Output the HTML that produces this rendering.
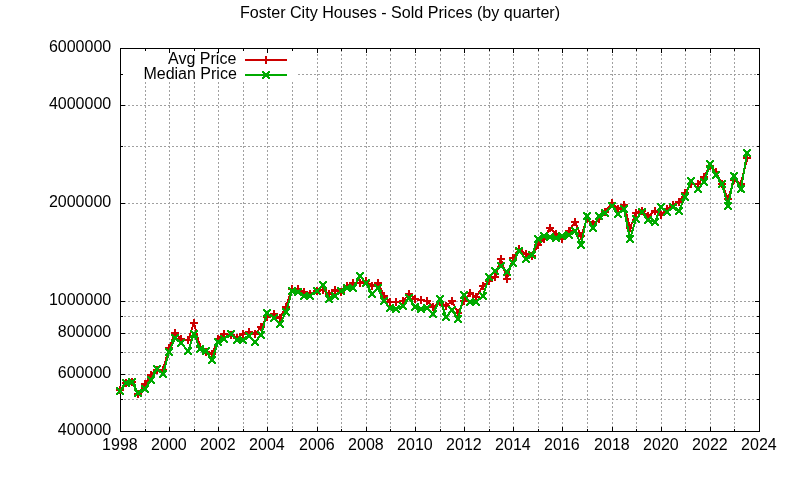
<!DOCTYPE html><html><head><meta charset="utf-8"><style>html,body{margin:0;padding:0;background:#fff;overflow:hidden}svg{display:block;will-change:transform}text{font-family:"Liberation Sans",sans-serif;font-size:16px;fill:#000}</style></head><body>
<svg width="800" height="480" viewBox="0 0 800 480">
<rect width="800" height="480" fill="#fff"/>
<path d="M145.5 432V81.5M169.5 432V81.5M194.5 432V81.5M218.5 432V81.5M243.5 432V81.5M267.5 432V81.5M292.5 432V81.5M317.5 432V48M341.5 432V48M366.5 432V48M390.5 432V48M415.5 432V48M440.5 432V48M464.5 432V48M489.5 432V48M513.5 432V48M538.5 432V48M562.5 432V48M587.5 432V48M612.5 432V48M636.5 432V48M661.5 432V48M685.5 432V48M710.5 432V48M734.5 432V48M120 399.5H759.5M120 374.5H759.5M120 352.5H759.5M120 333.5H759.5M120 316.5H759.5M120 301.5H759.5M120 203.5H759.5M120 146.5H759.5M120 105.5H759.5M298 74.5H759.5" stroke="#a0a0a0" stroke-width="1" stroke-dasharray="2 2" fill="none"/>
<path d="M145.5 431.5v-2.5M145.5 48.5v2.5M169.5 431.5v-4.5M169.5 48.5v4.5M194.5 431.5v-2.5M194.5 48.5v2.5M218.5 431.5v-4.5M218.5 48.5v4.5M243.5 431.5v-2.5M243.5 48.5v2.5M267.5 431.5v-4.5M267.5 48.5v4.5M292.5 431.5v-2.5M292.5 48.5v2.5M317.5 431.5v-4.5M317.5 48.5v4.5M341.5 431.5v-2.5M341.5 48.5v2.5M366.5 431.5v-4.5M366.5 48.5v4.5M390.5 431.5v-2.5M390.5 48.5v2.5M415.5 431.5v-4.5M415.5 48.5v4.5M440.5 431.5v-2.5M440.5 48.5v2.5M464.5 431.5v-4.5M464.5 48.5v4.5M489.5 431.5v-2.5M489.5 48.5v2.5M513.5 431.5v-4.5M513.5 48.5v4.5M538.5 431.5v-2.5M538.5 48.5v2.5M562.5 431.5v-4.5M562.5 48.5v4.5M587.5 431.5v-2.5M587.5 48.5v2.5M612.5 431.5v-4.5M612.5 48.5v4.5M636.5 431.5v-2.5M636.5 48.5v2.5M661.5 431.5v-4.5M661.5 48.5v4.5M685.5 431.5v-2.5M685.5 48.5v2.5M710.5 431.5v-4.5M710.5 48.5v4.5M734.5 431.5v-2.5M734.5 48.5v2.5M120.5 399.5h2.5M759.5 399.5h-2.5M120.5 374.5h4.5M759.5 374.5h-4.5M120.5 352.5h2.5M759.5 352.5h-2.5M120.5 333.5h4.5M759.5 333.5h-4.5M120.5 316.5h2.5M759.5 316.5h-2.5M120.5 301.5h4.5M759.5 301.5h-4.5M120.5 203.5h4.5M759.5 203.5h-4.5M120.5 146.5h2.5M759.5 146.5h-2.5M120.5 105.5h4.5M759.5 105.5h-4.5M120.5 74.5h2.5M759.5 74.5h-2.5" stroke="#000" stroke-width="1" fill="none"/>
<rect x="120.5" y="48.5" width="639.0" height="383.0" fill="none" stroke="#000" stroke-width="1"/>
<text x="111.2" y="434.7" text-anchor="end">400000</text>
<text x="111.2" y="377.7" text-anchor="end">600000</text>
<text x="111.2" y="336.7" text-anchor="end">800000</text>
<text x="111.2" y="304.7" text-anchor="end">1000000</text>
<text x="111.2" y="206.7" text-anchor="end">2000000</text>
<text x="111.2" y="108.7" text-anchor="end">4000000</text>
<text x="111.2" y="51.7" text-anchor="end">6000000</text>
<text x="119.9" y="450" text-anchor="middle">1998</text>
<text x="168.9" y="450" text-anchor="middle">2000</text>
<text x="217.9" y="450" text-anchor="middle">2002</text>
<text x="266.9" y="450" text-anchor="middle">2004</text>
<text x="316.9" y="450" text-anchor="middle">2006</text>
<text x="365.9" y="450" text-anchor="middle">2008</text>
<text x="414.9" y="450" text-anchor="middle">2010</text>
<text x="463.9" y="450" text-anchor="middle">2012</text>
<text x="512.9" y="450" text-anchor="middle">2014</text>
<text x="561.9" y="450" text-anchor="middle">2016</text>
<text x="611.9" y="450" text-anchor="middle">2018</text>
<text x="660.9" y="450" text-anchor="middle">2020</text>
<text x="709.9" y="450" text-anchor="middle">2022</text>
<text x="758.9" y="450" text-anchor="middle">2024</text>
<text x="400" y="18" text-anchor="middle" style="font-size:16.1px">Foster City Houses - Sold Prices (by quarter)</text>
<text x="236.3" y="64" text-anchor="end">Avg Price</text>
<text x="236.8" y="79" text-anchor="end">Median Price</text>
<path d="M245 60H287" stroke="#cc0000" stroke-width="2"/>
<path d="M245 75H287" stroke="#00aa00" stroke-width="2"/>
<polyline points="120.00,390.00 126.00,383.00 132.00,382.00 138.00,394.00 145.00,384.00 151.00,375.00 157.00,370.00 163.00,370.00 169.00,348.00 175.00,333.00 181.00,339.00 188.00,340.00 194.00,323.00 200.00,347.00 206.00,352.00 212.00,354.00 218.00,339.00 224.00,334.00 231.00,335.00 237.00,338.00 243.00,334.00 249.00,332.00 255.00,334.00 261.00,327.00 267.00,317.00 274.00,314.00 280.00,318.00 286.00,307.00 292.00,289.00 298.00,289.00 304.00,292.00 310.00,294.00 317.00,291.00 323.00,290.00 329.00,294.00 335.00,290.00 341.00,292.00 347.00,286.00 353.00,283.00 360.00,283.00 366.00,281.00 372.00,286.00 378.00,283.00 384.00,296.00 390.00,302.00 396.00,302.00 403.00,301.00 409.00,294.00 415.00,299.00 421.00,300.00 427.00,301.00 433.00,307.00 440.00,302.00 446.00,306.00 452.00,301.00 458.00,313.00 464.00,301.00 470.00,293.00 476.00,297.00 483.00,286.00 489.00,281.00 495.00,277.00 501.00,259.00 507.00,279.00 513.00,258.00 519.00,249.00 526.00,254.00 532.00,256.00 538.00,245.00 544.00,239.00 550.00,228.00 556.00,234.00 562.00,239.00 569.00,231.00 575.00,222.00 581.00,236.00 587.00,219.00 593.00,224.00 599.00,219.00 605.00,212.00 612.00,203.00 618.00,209.00 624.00,205.00 630.00,228.00 636.00,213.00 642.00,211.00 648.00,216.00 655.00,211.00 661.00,215.00 667.00,209.00 673.00,205.00 679.00,202.00 685.00,193.00 691.00,184.00 698.00,184.00 704.00,177.00 710.00,166.00 716.00,172.00 722.00,184.00 728.00,199.00 734.00,180.00 741.00,184.00 747.00,158.00" fill="none" stroke="#cc0000" stroke-width="2" stroke-linejoin="miter" shape-rendering="crispEdges"/>
<path d="M116.00 390.00h8M120.00 386.00v8M122.00 383.00h8M126.00 379.00v8M128.00 382.00h8M132.00 378.00v8M134.00 394.00h8M138.00 390.00v8M141.00 384.00h8M145.00 380.00v8M147.00 375.00h8M151.00 371.00v8M153.00 370.00h8M157.00 366.00v8M159.00 370.00h8M163.00 366.00v8M165.00 348.00h8M169.00 344.00v8M171.00 333.00h8M175.00 329.00v8M177.00 339.00h8M181.00 335.00v8M184.00 340.00h8M188.00 336.00v8M190.00 323.00h8M194.00 319.00v8M196.00 347.00h8M200.00 343.00v8M202.00 352.00h8M206.00 348.00v8M208.00 354.00h8M212.00 350.00v8M214.00 339.00h8M218.00 335.00v8M220.00 334.00h8M224.00 330.00v8M227.00 335.00h8M231.00 331.00v8M233.00 338.00h8M237.00 334.00v8M239.00 334.00h8M243.00 330.00v8M245.00 332.00h8M249.00 328.00v8M251.00 334.00h8M255.00 330.00v8M257.00 327.00h8M261.00 323.00v8M263.00 317.00h8M267.00 313.00v8M270.00 314.00h8M274.00 310.00v8M276.00 318.00h8M280.00 314.00v8M282.00 307.00h8M286.00 303.00v8M288.00 289.00h8M292.00 285.00v8M294.00 289.00h8M298.00 285.00v8M300.00 292.00h8M304.00 288.00v8M306.00 294.00h8M310.00 290.00v8M313.00 291.00h8M317.00 287.00v8M319.00 290.00h8M323.00 286.00v8M325.00 294.00h8M329.00 290.00v8M331.00 290.00h8M335.00 286.00v8M337.00 292.00h8M341.00 288.00v8M343.00 286.00h8M347.00 282.00v8M349.00 283.00h8M353.00 279.00v8M356.00 283.00h8M360.00 279.00v8M362.00 281.00h8M366.00 277.00v8M368.00 286.00h8M372.00 282.00v8M374.00 283.00h8M378.00 279.00v8M380.00 296.00h8M384.00 292.00v8M386.00 302.00h8M390.00 298.00v8M392.00 302.00h8M396.00 298.00v8M399.00 301.00h8M403.00 297.00v8M405.00 294.00h8M409.00 290.00v8M411.00 299.00h8M415.00 295.00v8M417.00 300.00h8M421.00 296.00v8M423.00 301.00h8M427.00 297.00v8M429.00 307.00h8M433.00 303.00v8M436.00 302.00h8M440.00 298.00v8M442.00 306.00h8M446.00 302.00v8M448.00 301.00h8M452.00 297.00v8M454.00 313.00h8M458.00 309.00v8M460.00 301.00h8M464.00 297.00v8M466.00 293.00h8M470.00 289.00v8M472.00 297.00h8M476.00 293.00v8M479.00 286.00h8M483.00 282.00v8M485.00 281.00h8M489.00 277.00v8M491.00 277.00h8M495.00 273.00v8M497.00 259.00h8M501.00 255.00v8M503.00 279.00h8M507.00 275.00v8M509.00 258.00h8M513.00 254.00v8M515.00 249.00h8M519.00 245.00v8M522.00 254.00h8M526.00 250.00v8M528.00 256.00h8M532.00 252.00v8M534.00 245.00h8M538.00 241.00v8M540.00 239.00h8M544.00 235.00v8M546.00 228.00h8M550.00 224.00v8M552.00 234.00h8M556.00 230.00v8M558.00 239.00h8M562.00 235.00v8M565.00 231.00h8M569.00 227.00v8M571.00 222.00h8M575.00 218.00v8M577.00 236.00h8M581.00 232.00v8M583.00 219.00h8M587.00 215.00v8M589.00 224.00h8M593.00 220.00v8M595.00 219.00h8M599.00 215.00v8M601.00 212.00h8M605.00 208.00v8M608.00 203.00h8M612.00 199.00v8M614.00 209.00h8M618.00 205.00v8M620.00 205.00h8M624.00 201.00v8M626.00 228.00h8M630.00 224.00v8M632.00 213.00h8M636.00 209.00v8M638.00 211.00h8M642.00 207.00v8M644.00 216.00h8M648.00 212.00v8M651.00 211.00h8M655.00 207.00v8M657.00 215.00h8M661.00 211.00v8M663.00 209.00h8M667.00 205.00v8M669.00 205.00h8M673.00 201.00v8M675.00 202.00h8M679.00 198.00v8M681.00 193.00h8M685.00 189.00v8M687.00 184.00h8M691.00 180.00v8M694.00 184.00h8M698.00 180.00v8M700.00 177.00h8M704.00 173.00v8M706.00 166.00h8M710.00 162.00v8M712.00 172.00h8M716.00 168.00v8M718.00 184.00h8M722.00 180.00v8M724.00 199.00h8M728.00 195.00v8M730.00 180.00h8M734.00 176.00v8M737.00 184.00h8M741.00 180.00v8M743.00 158.00h8M747.00 154.00v8M262.00 60.00h8M266.00 56.00v8" stroke="#cc0000" stroke-width="2" fill="none" shape-rendering="crispEdges"/>
<polyline points="120.00,391.00 126.00,383.00 132.00,382.00 138.00,393.00 145.00,389.00 151.00,380.00 157.00,369.00 163.00,374.00 169.00,352.00 175.00,338.00 181.00,343.00 188.00,351.00 194.00,334.00 200.00,349.00 206.00,351.00 212.00,360.00 218.00,342.00 224.00,339.00 231.00,334.00 237.00,340.00 243.00,340.00 249.00,336.00 255.00,342.00 261.00,335.00 267.00,313.00 274.00,318.00 280.00,324.00 286.00,312.00 292.00,291.00 298.00,292.00 304.00,296.00 310.00,296.00 317.00,291.00 323.00,285.00 329.00,299.00 335.00,296.00 341.00,291.00 347.00,288.00 353.00,288.00 360.00,276.00 366.00,283.00 372.00,294.00 378.00,288.00 384.00,301.00 390.00,308.00 396.00,309.00 403.00,306.00 409.00,298.00 415.00,307.00 421.00,309.00 427.00,308.00 433.00,314.00 440.00,299.00 446.00,317.00 452.00,310.00 458.00,319.00 464.00,295.00 470.00,302.00 476.00,302.00 483.00,296.00 489.00,277.00 495.00,271.00 501.00,266.00 507.00,272.00 513.00,263.00 519.00,251.00 526.00,259.00 532.00,255.00 538.00,239.00 544.00,236.00 550.00,237.00 556.00,238.00 562.00,236.00 569.00,235.00 575.00,231.00 581.00,245.00 587.00,216.00 593.00,228.00 599.00,216.00 605.00,213.00 612.00,206.00 618.00,214.00 624.00,209.00 630.00,239.00 636.00,219.00 642.00,212.00 648.00,220.00 655.00,222.00 661.00,207.00 667.00,212.00 673.00,207.00 679.00,211.00 685.00,197.00 691.00,181.00 698.00,189.00 704.00,182.00 710.00,164.00 716.00,175.00 722.00,184.00 728.00,206.00 734.00,176.00 741.00,189.00 747.00,153.00" fill="none" stroke="#00aa00" stroke-width="2" stroke-linejoin="miter" shape-rendering="crispEdges"/>
<path d="M116 387h2v2h-2zM122 387h2v2h-2zM117 388h2v2h-2zM121 388h2v2h-2zM118 389h2v2h-2zM120 389h2v2h-2zM119 390h2v2h-2zM119 390h2v2h-2zM120 391h2v2h-2zM118 391h2v2h-2zM121 392h2v2h-2zM117 392h2v2h-2zM122 393h2v2h-2zM116 393h2v2h-2zM122 379h2v2h-2zM128 379h2v2h-2zM123 380h2v2h-2zM127 380h2v2h-2zM124 381h2v2h-2zM126 381h2v2h-2zM125 382h2v2h-2zM125 382h2v2h-2zM126 383h2v2h-2zM124 383h2v2h-2zM127 384h2v2h-2zM123 384h2v2h-2zM128 385h2v2h-2zM122 385h2v2h-2zM128 378h2v2h-2zM134 378h2v2h-2zM129 379h2v2h-2zM133 379h2v2h-2zM130 380h2v2h-2zM132 380h2v2h-2zM131 381h2v2h-2zM131 381h2v2h-2zM132 382h2v2h-2zM130 382h2v2h-2zM133 383h2v2h-2zM129 383h2v2h-2zM134 384h2v2h-2zM128 384h2v2h-2zM134 389h2v2h-2zM140 389h2v2h-2zM135 390h2v2h-2zM139 390h2v2h-2zM136 391h2v2h-2zM138 391h2v2h-2zM137 392h2v2h-2zM137 392h2v2h-2zM138 393h2v2h-2zM136 393h2v2h-2zM139 394h2v2h-2zM135 394h2v2h-2zM140 395h2v2h-2zM134 395h2v2h-2zM141 385h2v2h-2zM147 385h2v2h-2zM142 386h2v2h-2zM146 386h2v2h-2zM143 387h2v2h-2zM145 387h2v2h-2zM144 388h2v2h-2zM144 388h2v2h-2zM145 389h2v2h-2zM143 389h2v2h-2zM146 390h2v2h-2zM142 390h2v2h-2zM147 391h2v2h-2zM141 391h2v2h-2zM147 376h2v2h-2zM153 376h2v2h-2zM148 377h2v2h-2zM152 377h2v2h-2zM149 378h2v2h-2zM151 378h2v2h-2zM150 379h2v2h-2zM150 379h2v2h-2zM151 380h2v2h-2zM149 380h2v2h-2zM152 381h2v2h-2zM148 381h2v2h-2zM153 382h2v2h-2zM147 382h2v2h-2zM153 365h2v2h-2zM159 365h2v2h-2zM154 366h2v2h-2zM158 366h2v2h-2zM155 367h2v2h-2zM157 367h2v2h-2zM156 368h2v2h-2zM156 368h2v2h-2zM157 369h2v2h-2zM155 369h2v2h-2zM158 370h2v2h-2zM154 370h2v2h-2zM159 371h2v2h-2zM153 371h2v2h-2zM159 370h2v2h-2zM165 370h2v2h-2zM160 371h2v2h-2zM164 371h2v2h-2zM161 372h2v2h-2zM163 372h2v2h-2zM162 373h2v2h-2zM162 373h2v2h-2zM163 374h2v2h-2zM161 374h2v2h-2zM164 375h2v2h-2zM160 375h2v2h-2zM165 376h2v2h-2zM159 376h2v2h-2zM165 348h2v2h-2zM171 348h2v2h-2zM166 349h2v2h-2zM170 349h2v2h-2zM167 350h2v2h-2zM169 350h2v2h-2zM168 351h2v2h-2zM168 351h2v2h-2zM169 352h2v2h-2zM167 352h2v2h-2zM170 353h2v2h-2zM166 353h2v2h-2zM171 354h2v2h-2zM165 354h2v2h-2zM171 334h2v2h-2zM177 334h2v2h-2zM172 335h2v2h-2zM176 335h2v2h-2zM173 336h2v2h-2zM175 336h2v2h-2zM174 337h2v2h-2zM174 337h2v2h-2zM175 338h2v2h-2zM173 338h2v2h-2zM176 339h2v2h-2zM172 339h2v2h-2zM177 340h2v2h-2zM171 340h2v2h-2zM177 339h2v2h-2zM183 339h2v2h-2zM178 340h2v2h-2zM182 340h2v2h-2zM179 341h2v2h-2zM181 341h2v2h-2zM180 342h2v2h-2zM180 342h2v2h-2zM181 343h2v2h-2zM179 343h2v2h-2zM182 344h2v2h-2zM178 344h2v2h-2zM183 345h2v2h-2zM177 345h2v2h-2zM184 347h2v2h-2zM190 347h2v2h-2zM185 348h2v2h-2zM189 348h2v2h-2zM186 349h2v2h-2zM188 349h2v2h-2zM187 350h2v2h-2zM187 350h2v2h-2zM188 351h2v2h-2zM186 351h2v2h-2zM189 352h2v2h-2zM185 352h2v2h-2zM190 353h2v2h-2zM184 353h2v2h-2zM190 330h2v2h-2zM196 330h2v2h-2zM191 331h2v2h-2zM195 331h2v2h-2zM192 332h2v2h-2zM194 332h2v2h-2zM193 333h2v2h-2zM193 333h2v2h-2zM194 334h2v2h-2zM192 334h2v2h-2zM195 335h2v2h-2zM191 335h2v2h-2zM196 336h2v2h-2zM190 336h2v2h-2zM196 345h2v2h-2zM202 345h2v2h-2zM197 346h2v2h-2zM201 346h2v2h-2zM198 347h2v2h-2zM200 347h2v2h-2zM199 348h2v2h-2zM199 348h2v2h-2zM200 349h2v2h-2zM198 349h2v2h-2zM201 350h2v2h-2zM197 350h2v2h-2zM202 351h2v2h-2zM196 351h2v2h-2zM202 347h2v2h-2zM208 347h2v2h-2zM203 348h2v2h-2zM207 348h2v2h-2zM204 349h2v2h-2zM206 349h2v2h-2zM205 350h2v2h-2zM205 350h2v2h-2zM206 351h2v2h-2zM204 351h2v2h-2zM207 352h2v2h-2zM203 352h2v2h-2zM208 353h2v2h-2zM202 353h2v2h-2zM208 356h2v2h-2zM214 356h2v2h-2zM209 357h2v2h-2zM213 357h2v2h-2zM210 358h2v2h-2zM212 358h2v2h-2zM211 359h2v2h-2zM211 359h2v2h-2zM212 360h2v2h-2zM210 360h2v2h-2zM213 361h2v2h-2zM209 361h2v2h-2zM214 362h2v2h-2zM208 362h2v2h-2zM214 338h2v2h-2zM220 338h2v2h-2zM215 339h2v2h-2zM219 339h2v2h-2zM216 340h2v2h-2zM218 340h2v2h-2zM217 341h2v2h-2zM217 341h2v2h-2zM218 342h2v2h-2zM216 342h2v2h-2zM219 343h2v2h-2zM215 343h2v2h-2zM220 344h2v2h-2zM214 344h2v2h-2zM220 335h2v2h-2zM226 335h2v2h-2zM221 336h2v2h-2zM225 336h2v2h-2zM222 337h2v2h-2zM224 337h2v2h-2zM223 338h2v2h-2zM223 338h2v2h-2zM224 339h2v2h-2zM222 339h2v2h-2zM225 340h2v2h-2zM221 340h2v2h-2zM226 341h2v2h-2zM220 341h2v2h-2zM227 330h2v2h-2zM233 330h2v2h-2zM228 331h2v2h-2zM232 331h2v2h-2zM229 332h2v2h-2zM231 332h2v2h-2zM230 333h2v2h-2zM230 333h2v2h-2zM231 334h2v2h-2zM229 334h2v2h-2zM232 335h2v2h-2zM228 335h2v2h-2zM233 336h2v2h-2zM227 336h2v2h-2zM233 336h2v2h-2zM239 336h2v2h-2zM234 337h2v2h-2zM238 337h2v2h-2zM235 338h2v2h-2zM237 338h2v2h-2zM236 339h2v2h-2zM236 339h2v2h-2zM237 340h2v2h-2zM235 340h2v2h-2zM238 341h2v2h-2zM234 341h2v2h-2zM239 342h2v2h-2zM233 342h2v2h-2zM239 336h2v2h-2zM245 336h2v2h-2zM240 337h2v2h-2zM244 337h2v2h-2zM241 338h2v2h-2zM243 338h2v2h-2zM242 339h2v2h-2zM242 339h2v2h-2zM243 340h2v2h-2zM241 340h2v2h-2zM244 341h2v2h-2zM240 341h2v2h-2zM245 342h2v2h-2zM239 342h2v2h-2zM245 332h2v2h-2zM251 332h2v2h-2zM246 333h2v2h-2zM250 333h2v2h-2zM247 334h2v2h-2zM249 334h2v2h-2zM248 335h2v2h-2zM248 335h2v2h-2zM249 336h2v2h-2zM247 336h2v2h-2zM250 337h2v2h-2zM246 337h2v2h-2zM251 338h2v2h-2zM245 338h2v2h-2zM251 338h2v2h-2zM257 338h2v2h-2zM252 339h2v2h-2zM256 339h2v2h-2zM253 340h2v2h-2zM255 340h2v2h-2zM254 341h2v2h-2zM254 341h2v2h-2zM255 342h2v2h-2zM253 342h2v2h-2zM256 343h2v2h-2zM252 343h2v2h-2zM257 344h2v2h-2zM251 344h2v2h-2zM257 331h2v2h-2zM263 331h2v2h-2zM258 332h2v2h-2zM262 332h2v2h-2zM259 333h2v2h-2zM261 333h2v2h-2zM260 334h2v2h-2zM260 334h2v2h-2zM261 335h2v2h-2zM259 335h2v2h-2zM262 336h2v2h-2zM258 336h2v2h-2zM263 337h2v2h-2zM257 337h2v2h-2zM263 309h2v2h-2zM269 309h2v2h-2zM264 310h2v2h-2zM268 310h2v2h-2zM265 311h2v2h-2zM267 311h2v2h-2zM266 312h2v2h-2zM266 312h2v2h-2zM267 313h2v2h-2zM265 313h2v2h-2zM268 314h2v2h-2zM264 314h2v2h-2zM269 315h2v2h-2zM263 315h2v2h-2zM270 314h2v2h-2zM276 314h2v2h-2zM271 315h2v2h-2zM275 315h2v2h-2zM272 316h2v2h-2zM274 316h2v2h-2zM273 317h2v2h-2zM273 317h2v2h-2zM274 318h2v2h-2zM272 318h2v2h-2zM275 319h2v2h-2zM271 319h2v2h-2zM276 320h2v2h-2zM270 320h2v2h-2zM276 320h2v2h-2zM282 320h2v2h-2zM277 321h2v2h-2zM281 321h2v2h-2zM278 322h2v2h-2zM280 322h2v2h-2zM279 323h2v2h-2zM279 323h2v2h-2zM280 324h2v2h-2zM278 324h2v2h-2zM281 325h2v2h-2zM277 325h2v2h-2zM282 326h2v2h-2zM276 326h2v2h-2zM282 308h2v2h-2zM288 308h2v2h-2zM283 309h2v2h-2zM287 309h2v2h-2zM284 310h2v2h-2zM286 310h2v2h-2zM285 311h2v2h-2zM285 311h2v2h-2zM286 312h2v2h-2zM284 312h2v2h-2zM287 313h2v2h-2zM283 313h2v2h-2zM288 314h2v2h-2zM282 314h2v2h-2zM288 287h2v2h-2zM294 287h2v2h-2zM289 288h2v2h-2zM293 288h2v2h-2zM290 289h2v2h-2zM292 289h2v2h-2zM291 290h2v2h-2zM291 290h2v2h-2zM292 291h2v2h-2zM290 291h2v2h-2zM293 292h2v2h-2zM289 292h2v2h-2zM294 293h2v2h-2zM288 293h2v2h-2zM294 288h2v2h-2zM300 288h2v2h-2zM295 289h2v2h-2zM299 289h2v2h-2zM296 290h2v2h-2zM298 290h2v2h-2zM297 291h2v2h-2zM297 291h2v2h-2zM298 292h2v2h-2zM296 292h2v2h-2zM299 293h2v2h-2zM295 293h2v2h-2zM300 294h2v2h-2zM294 294h2v2h-2zM300 292h2v2h-2zM306 292h2v2h-2zM301 293h2v2h-2zM305 293h2v2h-2zM302 294h2v2h-2zM304 294h2v2h-2zM303 295h2v2h-2zM303 295h2v2h-2zM304 296h2v2h-2zM302 296h2v2h-2zM305 297h2v2h-2zM301 297h2v2h-2zM306 298h2v2h-2zM300 298h2v2h-2zM306 292h2v2h-2zM312 292h2v2h-2zM307 293h2v2h-2zM311 293h2v2h-2zM308 294h2v2h-2zM310 294h2v2h-2zM309 295h2v2h-2zM309 295h2v2h-2zM310 296h2v2h-2zM308 296h2v2h-2zM311 297h2v2h-2zM307 297h2v2h-2zM312 298h2v2h-2zM306 298h2v2h-2zM313 287h2v2h-2zM319 287h2v2h-2zM314 288h2v2h-2zM318 288h2v2h-2zM315 289h2v2h-2zM317 289h2v2h-2zM316 290h2v2h-2zM316 290h2v2h-2zM317 291h2v2h-2zM315 291h2v2h-2zM318 292h2v2h-2zM314 292h2v2h-2zM319 293h2v2h-2zM313 293h2v2h-2zM319 281h2v2h-2zM325 281h2v2h-2zM320 282h2v2h-2zM324 282h2v2h-2zM321 283h2v2h-2zM323 283h2v2h-2zM322 284h2v2h-2zM322 284h2v2h-2zM323 285h2v2h-2zM321 285h2v2h-2zM324 286h2v2h-2zM320 286h2v2h-2zM325 287h2v2h-2zM319 287h2v2h-2zM325 295h2v2h-2zM331 295h2v2h-2zM326 296h2v2h-2zM330 296h2v2h-2zM327 297h2v2h-2zM329 297h2v2h-2zM328 298h2v2h-2zM328 298h2v2h-2zM329 299h2v2h-2zM327 299h2v2h-2zM330 300h2v2h-2zM326 300h2v2h-2zM331 301h2v2h-2zM325 301h2v2h-2zM331 292h2v2h-2zM337 292h2v2h-2zM332 293h2v2h-2zM336 293h2v2h-2zM333 294h2v2h-2zM335 294h2v2h-2zM334 295h2v2h-2zM334 295h2v2h-2zM335 296h2v2h-2zM333 296h2v2h-2zM336 297h2v2h-2zM332 297h2v2h-2zM337 298h2v2h-2zM331 298h2v2h-2zM337 287h2v2h-2zM343 287h2v2h-2zM338 288h2v2h-2zM342 288h2v2h-2zM339 289h2v2h-2zM341 289h2v2h-2zM340 290h2v2h-2zM340 290h2v2h-2zM341 291h2v2h-2zM339 291h2v2h-2zM342 292h2v2h-2zM338 292h2v2h-2zM343 293h2v2h-2zM337 293h2v2h-2zM343 284h2v2h-2zM349 284h2v2h-2zM344 285h2v2h-2zM348 285h2v2h-2zM345 286h2v2h-2zM347 286h2v2h-2zM346 287h2v2h-2zM346 287h2v2h-2zM347 288h2v2h-2zM345 288h2v2h-2zM348 289h2v2h-2zM344 289h2v2h-2zM349 290h2v2h-2zM343 290h2v2h-2zM349 284h2v2h-2zM355 284h2v2h-2zM350 285h2v2h-2zM354 285h2v2h-2zM351 286h2v2h-2zM353 286h2v2h-2zM352 287h2v2h-2zM352 287h2v2h-2zM353 288h2v2h-2zM351 288h2v2h-2zM354 289h2v2h-2zM350 289h2v2h-2zM355 290h2v2h-2zM349 290h2v2h-2zM356 272h2v2h-2zM362 272h2v2h-2zM357 273h2v2h-2zM361 273h2v2h-2zM358 274h2v2h-2zM360 274h2v2h-2zM359 275h2v2h-2zM359 275h2v2h-2zM360 276h2v2h-2zM358 276h2v2h-2zM361 277h2v2h-2zM357 277h2v2h-2zM362 278h2v2h-2zM356 278h2v2h-2zM362 279h2v2h-2zM368 279h2v2h-2zM363 280h2v2h-2zM367 280h2v2h-2zM364 281h2v2h-2zM366 281h2v2h-2zM365 282h2v2h-2zM365 282h2v2h-2zM366 283h2v2h-2zM364 283h2v2h-2zM367 284h2v2h-2zM363 284h2v2h-2zM368 285h2v2h-2zM362 285h2v2h-2zM368 290h2v2h-2zM374 290h2v2h-2zM369 291h2v2h-2zM373 291h2v2h-2zM370 292h2v2h-2zM372 292h2v2h-2zM371 293h2v2h-2zM371 293h2v2h-2zM372 294h2v2h-2zM370 294h2v2h-2zM373 295h2v2h-2zM369 295h2v2h-2zM374 296h2v2h-2zM368 296h2v2h-2zM374 284h2v2h-2zM380 284h2v2h-2zM375 285h2v2h-2zM379 285h2v2h-2zM376 286h2v2h-2zM378 286h2v2h-2zM377 287h2v2h-2zM377 287h2v2h-2zM378 288h2v2h-2zM376 288h2v2h-2zM379 289h2v2h-2zM375 289h2v2h-2zM380 290h2v2h-2zM374 290h2v2h-2zM380 297h2v2h-2zM386 297h2v2h-2zM381 298h2v2h-2zM385 298h2v2h-2zM382 299h2v2h-2zM384 299h2v2h-2zM383 300h2v2h-2zM383 300h2v2h-2zM384 301h2v2h-2zM382 301h2v2h-2zM385 302h2v2h-2zM381 302h2v2h-2zM386 303h2v2h-2zM380 303h2v2h-2zM386 304h2v2h-2zM392 304h2v2h-2zM387 305h2v2h-2zM391 305h2v2h-2zM388 306h2v2h-2zM390 306h2v2h-2zM389 307h2v2h-2zM389 307h2v2h-2zM390 308h2v2h-2zM388 308h2v2h-2zM391 309h2v2h-2zM387 309h2v2h-2zM392 310h2v2h-2zM386 310h2v2h-2zM392 305h2v2h-2zM398 305h2v2h-2zM393 306h2v2h-2zM397 306h2v2h-2zM394 307h2v2h-2zM396 307h2v2h-2zM395 308h2v2h-2zM395 308h2v2h-2zM396 309h2v2h-2zM394 309h2v2h-2zM397 310h2v2h-2zM393 310h2v2h-2zM398 311h2v2h-2zM392 311h2v2h-2zM399 302h2v2h-2zM405 302h2v2h-2zM400 303h2v2h-2zM404 303h2v2h-2zM401 304h2v2h-2zM403 304h2v2h-2zM402 305h2v2h-2zM402 305h2v2h-2zM403 306h2v2h-2zM401 306h2v2h-2zM404 307h2v2h-2zM400 307h2v2h-2zM405 308h2v2h-2zM399 308h2v2h-2zM405 294h2v2h-2zM411 294h2v2h-2zM406 295h2v2h-2zM410 295h2v2h-2zM407 296h2v2h-2zM409 296h2v2h-2zM408 297h2v2h-2zM408 297h2v2h-2zM409 298h2v2h-2zM407 298h2v2h-2zM410 299h2v2h-2zM406 299h2v2h-2zM411 300h2v2h-2zM405 300h2v2h-2zM411 303h2v2h-2zM417 303h2v2h-2zM412 304h2v2h-2zM416 304h2v2h-2zM413 305h2v2h-2zM415 305h2v2h-2zM414 306h2v2h-2zM414 306h2v2h-2zM415 307h2v2h-2zM413 307h2v2h-2zM416 308h2v2h-2zM412 308h2v2h-2zM417 309h2v2h-2zM411 309h2v2h-2zM417 305h2v2h-2zM423 305h2v2h-2zM418 306h2v2h-2zM422 306h2v2h-2zM419 307h2v2h-2zM421 307h2v2h-2zM420 308h2v2h-2zM420 308h2v2h-2zM421 309h2v2h-2zM419 309h2v2h-2zM422 310h2v2h-2zM418 310h2v2h-2zM423 311h2v2h-2zM417 311h2v2h-2zM423 304h2v2h-2zM429 304h2v2h-2zM424 305h2v2h-2zM428 305h2v2h-2zM425 306h2v2h-2zM427 306h2v2h-2zM426 307h2v2h-2zM426 307h2v2h-2zM427 308h2v2h-2zM425 308h2v2h-2zM428 309h2v2h-2zM424 309h2v2h-2zM429 310h2v2h-2zM423 310h2v2h-2zM429 310h2v2h-2zM435 310h2v2h-2zM430 311h2v2h-2zM434 311h2v2h-2zM431 312h2v2h-2zM433 312h2v2h-2zM432 313h2v2h-2zM432 313h2v2h-2zM433 314h2v2h-2zM431 314h2v2h-2zM434 315h2v2h-2zM430 315h2v2h-2zM435 316h2v2h-2zM429 316h2v2h-2zM436 295h2v2h-2zM442 295h2v2h-2zM437 296h2v2h-2zM441 296h2v2h-2zM438 297h2v2h-2zM440 297h2v2h-2zM439 298h2v2h-2zM439 298h2v2h-2zM440 299h2v2h-2zM438 299h2v2h-2zM441 300h2v2h-2zM437 300h2v2h-2zM442 301h2v2h-2zM436 301h2v2h-2zM442 313h2v2h-2zM448 313h2v2h-2zM443 314h2v2h-2zM447 314h2v2h-2zM444 315h2v2h-2zM446 315h2v2h-2zM445 316h2v2h-2zM445 316h2v2h-2zM446 317h2v2h-2zM444 317h2v2h-2zM447 318h2v2h-2zM443 318h2v2h-2zM448 319h2v2h-2zM442 319h2v2h-2zM448 306h2v2h-2zM454 306h2v2h-2zM449 307h2v2h-2zM453 307h2v2h-2zM450 308h2v2h-2zM452 308h2v2h-2zM451 309h2v2h-2zM451 309h2v2h-2zM452 310h2v2h-2zM450 310h2v2h-2zM453 311h2v2h-2zM449 311h2v2h-2zM454 312h2v2h-2zM448 312h2v2h-2zM454 315h2v2h-2zM460 315h2v2h-2zM455 316h2v2h-2zM459 316h2v2h-2zM456 317h2v2h-2zM458 317h2v2h-2zM457 318h2v2h-2zM457 318h2v2h-2zM458 319h2v2h-2zM456 319h2v2h-2zM459 320h2v2h-2zM455 320h2v2h-2zM460 321h2v2h-2zM454 321h2v2h-2zM460 291h2v2h-2zM466 291h2v2h-2zM461 292h2v2h-2zM465 292h2v2h-2zM462 293h2v2h-2zM464 293h2v2h-2zM463 294h2v2h-2zM463 294h2v2h-2zM464 295h2v2h-2zM462 295h2v2h-2zM465 296h2v2h-2zM461 296h2v2h-2zM466 297h2v2h-2zM460 297h2v2h-2zM466 298h2v2h-2zM472 298h2v2h-2zM467 299h2v2h-2zM471 299h2v2h-2zM468 300h2v2h-2zM470 300h2v2h-2zM469 301h2v2h-2zM469 301h2v2h-2zM470 302h2v2h-2zM468 302h2v2h-2zM471 303h2v2h-2zM467 303h2v2h-2zM472 304h2v2h-2zM466 304h2v2h-2zM472 298h2v2h-2zM478 298h2v2h-2zM473 299h2v2h-2zM477 299h2v2h-2zM474 300h2v2h-2zM476 300h2v2h-2zM475 301h2v2h-2zM475 301h2v2h-2zM476 302h2v2h-2zM474 302h2v2h-2zM477 303h2v2h-2zM473 303h2v2h-2zM478 304h2v2h-2zM472 304h2v2h-2zM479 292h2v2h-2zM485 292h2v2h-2zM480 293h2v2h-2zM484 293h2v2h-2zM481 294h2v2h-2zM483 294h2v2h-2zM482 295h2v2h-2zM482 295h2v2h-2zM483 296h2v2h-2zM481 296h2v2h-2zM484 297h2v2h-2zM480 297h2v2h-2zM485 298h2v2h-2zM479 298h2v2h-2zM485 273h2v2h-2zM491 273h2v2h-2zM486 274h2v2h-2zM490 274h2v2h-2zM487 275h2v2h-2zM489 275h2v2h-2zM488 276h2v2h-2zM488 276h2v2h-2zM489 277h2v2h-2zM487 277h2v2h-2zM490 278h2v2h-2zM486 278h2v2h-2zM491 279h2v2h-2zM485 279h2v2h-2zM491 267h2v2h-2zM497 267h2v2h-2zM492 268h2v2h-2zM496 268h2v2h-2zM493 269h2v2h-2zM495 269h2v2h-2zM494 270h2v2h-2zM494 270h2v2h-2zM495 271h2v2h-2zM493 271h2v2h-2zM496 272h2v2h-2zM492 272h2v2h-2zM497 273h2v2h-2zM491 273h2v2h-2zM497 262h2v2h-2zM503 262h2v2h-2zM498 263h2v2h-2zM502 263h2v2h-2zM499 264h2v2h-2zM501 264h2v2h-2zM500 265h2v2h-2zM500 265h2v2h-2zM501 266h2v2h-2zM499 266h2v2h-2zM502 267h2v2h-2zM498 267h2v2h-2zM503 268h2v2h-2zM497 268h2v2h-2zM503 268h2v2h-2zM509 268h2v2h-2zM504 269h2v2h-2zM508 269h2v2h-2zM505 270h2v2h-2zM507 270h2v2h-2zM506 271h2v2h-2zM506 271h2v2h-2zM507 272h2v2h-2zM505 272h2v2h-2zM508 273h2v2h-2zM504 273h2v2h-2zM509 274h2v2h-2zM503 274h2v2h-2zM509 259h2v2h-2zM515 259h2v2h-2zM510 260h2v2h-2zM514 260h2v2h-2zM511 261h2v2h-2zM513 261h2v2h-2zM512 262h2v2h-2zM512 262h2v2h-2zM513 263h2v2h-2zM511 263h2v2h-2zM514 264h2v2h-2zM510 264h2v2h-2zM515 265h2v2h-2zM509 265h2v2h-2zM515 247h2v2h-2zM521 247h2v2h-2zM516 248h2v2h-2zM520 248h2v2h-2zM517 249h2v2h-2zM519 249h2v2h-2zM518 250h2v2h-2zM518 250h2v2h-2zM519 251h2v2h-2zM517 251h2v2h-2zM520 252h2v2h-2zM516 252h2v2h-2zM521 253h2v2h-2zM515 253h2v2h-2zM522 255h2v2h-2zM528 255h2v2h-2zM523 256h2v2h-2zM527 256h2v2h-2zM524 257h2v2h-2zM526 257h2v2h-2zM525 258h2v2h-2zM525 258h2v2h-2zM526 259h2v2h-2zM524 259h2v2h-2zM527 260h2v2h-2zM523 260h2v2h-2zM528 261h2v2h-2zM522 261h2v2h-2zM528 251h2v2h-2zM534 251h2v2h-2zM529 252h2v2h-2zM533 252h2v2h-2zM530 253h2v2h-2zM532 253h2v2h-2zM531 254h2v2h-2zM531 254h2v2h-2zM532 255h2v2h-2zM530 255h2v2h-2zM533 256h2v2h-2zM529 256h2v2h-2zM534 257h2v2h-2zM528 257h2v2h-2zM534 235h2v2h-2zM540 235h2v2h-2zM535 236h2v2h-2zM539 236h2v2h-2zM536 237h2v2h-2zM538 237h2v2h-2zM537 238h2v2h-2zM537 238h2v2h-2zM538 239h2v2h-2zM536 239h2v2h-2zM539 240h2v2h-2zM535 240h2v2h-2zM540 241h2v2h-2zM534 241h2v2h-2zM540 232h2v2h-2zM546 232h2v2h-2zM541 233h2v2h-2zM545 233h2v2h-2zM542 234h2v2h-2zM544 234h2v2h-2zM543 235h2v2h-2zM543 235h2v2h-2zM544 236h2v2h-2zM542 236h2v2h-2zM545 237h2v2h-2zM541 237h2v2h-2zM546 238h2v2h-2zM540 238h2v2h-2zM546 233h2v2h-2zM552 233h2v2h-2zM547 234h2v2h-2zM551 234h2v2h-2zM548 235h2v2h-2zM550 235h2v2h-2zM549 236h2v2h-2zM549 236h2v2h-2zM550 237h2v2h-2zM548 237h2v2h-2zM551 238h2v2h-2zM547 238h2v2h-2zM552 239h2v2h-2zM546 239h2v2h-2zM552 234h2v2h-2zM558 234h2v2h-2zM553 235h2v2h-2zM557 235h2v2h-2zM554 236h2v2h-2zM556 236h2v2h-2zM555 237h2v2h-2zM555 237h2v2h-2zM556 238h2v2h-2zM554 238h2v2h-2zM557 239h2v2h-2zM553 239h2v2h-2zM558 240h2v2h-2zM552 240h2v2h-2zM558 232h2v2h-2zM564 232h2v2h-2zM559 233h2v2h-2zM563 233h2v2h-2zM560 234h2v2h-2zM562 234h2v2h-2zM561 235h2v2h-2zM561 235h2v2h-2zM562 236h2v2h-2zM560 236h2v2h-2zM563 237h2v2h-2zM559 237h2v2h-2zM564 238h2v2h-2zM558 238h2v2h-2zM565 231h2v2h-2zM571 231h2v2h-2zM566 232h2v2h-2zM570 232h2v2h-2zM567 233h2v2h-2zM569 233h2v2h-2zM568 234h2v2h-2zM568 234h2v2h-2zM569 235h2v2h-2zM567 235h2v2h-2zM570 236h2v2h-2zM566 236h2v2h-2zM571 237h2v2h-2zM565 237h2v2h-2zM571 227h2v2h-2zM577 227h2v2h-2zM572 228h2v2h-2zM576 228h2v2h-2zM573 229h2v2h-2zM575 229h2v2h-2zM574 230h2v2h-2zM574 230h2v2h-2zM575 231h2v2h-2zM573 231h2v2h-2zM576 232h2v2h-2zM572 232h2v2h-2zM577 233h2v2h-2zM571 233h2v2h-2zM577 241h2v2h-2zM583 241h2v2h-2zM578 242h2v2h-2zM582 242h2v2h-2zM579 243h2v2h-2zM581 243h2v2h-2zM580 244h2v2h-2zM580 244h2v2h-2zM581 245h2v2h-2zM579 245h2v2h-2zM582 246h2v2h-2zM578 246h2v2h-2zM583 247h2v2h-2zM577 247h2v2h-2zM583 212h2v2h-2zM589 212h2v2h-2zM584 213h2v2h-2zM588 213h2v2h-2zM585 214h2v2h-2zM587 214h2v2h-2zM586 215h2v2h-2zM586 215h2v2h-2zM587 216h2v2h-2zM585 216h2v2h-2zM588 217h2v2h-2zM584 217h2v2h-2zM589 218h2v2h-2zM583 218h2v2h-2zM589 224h2v2h-2zM595 224h2v2h-2zM590 225h2v2h-2zM594 225h2v2h-2zM591 226h2v2h-2zM593 226h2v2h-2zM592 227h2v2h-2zM592 227h2v2h-2zM593 228h2v2h-2zM591 228h2v2h-2zM594 229h2v2h-2zM590 229h2v2h-2zM595 230h2v2h-2zM589 230h2v2h-2zM595 212h2v2h-2zM601 212h2v2h-2zM596 213h2v2h-2zM600 213h2v2h-2zM597 214h2v2h-2zM599 214h2v2h-2zM598 215h2v2h-2zM598 215h2v2h-2zM599 216h2v2h-2zM597 216h2v2h-2zM600 217h2v2h-2zM596 217h2v2h-2zM601 218h2v2h-2zM595 218h2v2h-2zM601 209h2v2h-2zM607 209h2v2h-2zM602 210h2v2h-2zM606 210h2v2h-2zM603 211h2v2h-2zM605 211h2v2h-2zM604 212h2v2h-2zM604 212h2v2h-2zM605 213h2v2h-2zM603 213h2v2h-2zM606 214h2v2h-2zM602 214h2v2h-2zM607 215h2v2h-2zM601 215h2v2h-2zM608 202h2v2h-2zM614 202h2v2h-2zM609 203h2v2h-2zM613 203h2v2h-2zM610 204h2v2h-2zM612 204h2v2h-2zM611 205h2v2h-2zM611 205h2v2h-2zM612 206h2v2h-2zM610 206h2v2h-2zM613 207h2v2h-2zM609 207h2v2h-2zM614 208h2v2h-2zM608 208h2v2h-2zM614 210h2v2h-2zM620 210h2v2h-2zM615 211h2v2h-2zM619 211h2v2h-2zM616 212h2v2h-2zM618 212h2v2h-2zM617 213h2v2h-2zM617 213h2v2h-2zM618 214h2v2h-2zM616 214h2v2h-2zM619 215h2v2h-2zM615 215h2v2h-2zM620 216h2v2h-2zM614 216h2v2h-2zM620 205h2v2h-2zM626 205h2v2h-2zM621 206h2v2h-2zM625 206h2v2h-2zM622 207h2v2h-2zM624 207h2v2h-2zM623 208h2v2h-2zM623 208h2v2h-2zM624 209h2v2h-2zM622 209h2v2h-2zM625 210h2v2h-2zM621 210h2v2h-2zM626 211h2v2h-2zM620 211h2v2h-2zM626 235h2v2h-2zM632 235h2v2h-2zM627 236h2v2h-2zM631 236h2v2h-2zM628 237h2v2h-2zM630 237h2v2h-2zM629 238h2v2h-2zM629 238h2v2h-2zM630 239h2v2h-2zM628 239h2v2h-2zM631 240h2v2h-2zM627 240h2v2h-2zM632 241h2v2h-2zM626 241h2v2h-2zM632 215h2v2h-2zM638 215h2v2h-2zM633 216h2v2h-2zM637 216h2v2h-2zM634 217h2v2h-2zM636 217h2v2h-2zM635 218h2v2h-2zM635 218h2v2h-2zM636 219h2v2h-2zM634 219h2v2h-2zM637 220h2v2h-2zM633 220h2v2h-2zM638 221h2v2h-2zM632 221h2v2h-2zM638 208h2v2h-2zM644 208h2v2h-2zM639 209h2v2h-2zM643 209h2v2h-2zM640 210h2v2h-2zM642 210h2v2h-2zM641 211h2v2h-2zM641 211h2v2h-2zM642 212h2v2h-2zM640 212h2v2h-2zM643 213h2v2h-2zM639 213h2v2h-2zM644 214h2v2h-2zM638 214h2v2h-2zM644 216h2v2h-2zM650 216h2v2h-2zM645 217h2v2h-2zM649 217h2v2h-2zM646 218h2v2h-2zM648 218h2v2h-2zM647 219h2v2h-2zM647 219h2v2h-2zM648 220h2v2h-2zM646 220h2v2h-2zM649 221h2v2h-2zM645 221h2v2h-2zM650 222h2v2h-2zM644 222h2v2h-2zM651 218h2v2h-2zM657 218h2v2h-2zM652 219h2v2h-2zM656 219h2v2h-2zM653 220h2v2h-2zM655 220h2v2h-2zM654 221h2v2h-2zM654 221h2v2h-2zM655 222h2v2h-2zM653 222h2v2h-2zM656 223h2v2h-2zM652 223h2v2h-2zM657 224h2v2h-2zM651 224h2v2h-2zM657 203h2v2h-2zM663 203h2v2h-2zM658 204h2v2h-2zM662 204h2v2h-2zM659 205h2v2h-2zM661 205h2v2h-2zM660 206h2v2h-2zM660 206h2v2h-2zM661 207h2v2h-2zM659 207h2v2h-2zM662 208h2v2h-2zM658 208h2v2h-2zM663 209h2v2h-2zM657 209h2v2h-2zM663 208h2v2h-2zM669 208h2v2h-2zM664 209h2v2h-2zM668 209h2v2h-2zM665 210h2v2h-2zM667 210h2v2h-2zM666 211h2v2h-2zM666 211h2v2h-2zM667 212h2v2h-2zM665 212h2v2h-2zM668 213h2v2h-2zM664 213h2v2h-2zM669 214h2v2h-2zM663 214h2v2h-2zM669 203h2v2h-2zM675 203h2v2h-2zM670 204h2v2h-2zM674 204h2v2h-2zM671 205h2v2h-2zM673 205h2v2h-2zM672 206h2v2h-2zM672 206h2v2h-2zM673 207h2v2h-2zM671 207h2v2h-2zM674 208h2v2h-2zM670 208h2v2h-2zM675 209h2v2h-2zM669 209h2v2h-2zM675 207h2v2h-2zM681 207h2v2h-2zM676 208h2v2h-2zM680 208h2v2h-2zM677 209h2v2h-2zM679 209h2v2h-2zM678 210h2v2h-2zM678 210h2v2h-2zM679 211h2v2h-2zM677 211h2v2h-2zM680 212h2v2h-2zM676 212h2v2h-2zM681 213h2v2h-2zM675 213h2v2h-2zM681 193h2v2h-2zM687 193h2v2h-2zM682 194h2v2h-2zM686 194h2v2h-2zM683 195h2v2h-2zM685 195h2v2h-2zM684 196h2v2h-2zM684 196h2v2h-2zM685 197h2v2h-2zM683 197h2v2h-2zM686 198h2v2h-2zM682 198h2v2h-2zM687 199h2v2h-2zM681 199h2v2h-2zM687 177h2v2h-2zM693 177h2v2h-2zM688 178h2v2h-2zM692 178h2v2h-2zM689 179h2v2h-2zM691 179h2v2h-2zM690 180h2v2h-2zM690 180h2v2h-2zM691 181h2v2h-2zM689 181h2v2h-2zM692 182h2v2h-2zM688 182h2v2h-2zM693 183h2v2h-2zM687 183h2v2h-2zM694 185h2v2h-2zM700 185h2v2h-2zM695 186h2v2h-2zM699 186h2v2h-2zM696 187h2v2h-2zM698 187h2v2h-2zM697 188h2v2h-2zM697 188h2v2h-2zM698 189h2v2h-2zM696 189h2v2h-2zM699 190h2v2h-2zM695 190h2v2h-2zM700 191h2v2h-2zM694 191h2v2h-2zM700 178h2v2h-2zM706 178h2v2h-2zM701 179h2v2h-2zM705 179h2v2h-2zM702 180h2v2h-2zM704 180h2v2h-2zM703 181h2v2h-2zM703 181h2v2h-2zM704 182h2v2h-2zM702 182h2v2h-2zM705 183h2v2h-2zM701 183h2v2h-2zM706 184h2v2h-2zM700 184h2v2h-2zM706 160h2v2h-2zM712 160h2v2h-2zM707 161h2v2h-2zM711 161h2v2h-2zM708 162h2v2h-2zM710 162h2v2h-2zM709 163h2v2h-2zM709 163h2v2h-2zM710 164h2v2h-2zM708 164h2v2h-2zM711 165h2v2h-2zM707 165h2v2h-2zM712 166h2v2h-2zM706 166h2v2h-2zM712 171h2v2h-2zM718 171h2v2h-2zM713 172h2v2h-2zM717 172h2v2h-2zM714 173h2v2h-2zM716 173h2v2h-2zM715 174h2v2h-2zM715 174h2v2h-2zM716 175h2v2h-2zM714 175h2v2h-2zM717 176h2v2h-2zM713 176h2v2h-2zM718 177h2v2h-2zM712 177h2v2h-2zM718 180h2v2h-2zM724 180h2v2h-2zM719 181h2v2h-2zM723 181h2v2h-2zM720 182h2v2h-2zM722 182h2v2h-2zM721 183h2v2h-2zM721 183h2v2h-2zM722 184h2v2h-2zM720 184h2v2h-2zM723 185h2v2h-2zM719 185h2v2h-2zM724 186h2v2h-2zM718 186h2v2h-2zM724 202h2v2h-2zM730 202h2v2h-2zM725 203h2v2h-2zM729 203h2v2h-2zM726 204h2v2h-2zM728 204h2v2h-2zM727 205h2v2h-2zM727 205h2v2h-2zM728 206h2v2h-2zM726 206h2v2h-2zM729 207h2v2h-2zM725 207h2v2h-2zM730 208h2v2h-2zM724 208h2v2h-2zM730 172h2v2h-2zM736 172h2v2h-2zM731 173h2v2h-2zM735 173h2v2h-2zM732 174h2v2h-2zM734 174h2v2h-2zM733 175h2v2h-2zM733 175h2v2h-2zM734 176h2v2h-2zM732 176h2v2h-2zM735 177h2v2h-2zM731 177h2v2h-2zM736 178h2v2h-2zM730 178h2v2h-2zM737 185h2v2h-2zM743 185h2v2h-2zM738 186h2v2h-2zM742 186h2v2h-2zM739 187h2v2h-2zM741 187h2v2h-2zM740 188h2v2h-2zM740 188h2v2h-2zM741 189h2v2h-2zM739 189h2v2h-2zM742 190h2v2h-2zM738 190h2v2h-2zM743 191h2v2h-2zM737 191h2v2h-2zM743 149h2v2h-2zM749 149h2v2h-2zM744 150h2v2h-2zM748 150h2v2h-2zM745 151h2v2h-2zM747 151h2v2h-2zM746 152h2v2h-2zM746 152h2v2h-2zM747 153h2v2h-2zM745 153h2v2h-2zM748 154h2v2h-2zM744 154h2v2h-2zM749 155h2v2h-2zM743 155h2v2h-2zM262 71h2v2h-2zM268 71h2v2h-2zM263 72h2v2h-2zM267 72h2v2h-2zM264 73h2v2h-2zM266 73h2v2h-2zM265 74h2v2h-2zM265 74h2v2h-2zM266 75h2v2h-2zM264 75h2v2h-2zM267 76h2v2h-2zM263 76h2v2h-2zM268 77h2v2h-2zM262 77h2v2h-2z" fill="#00aa00" shape-rendering="crispEdges"/>
</svg></body></html>
